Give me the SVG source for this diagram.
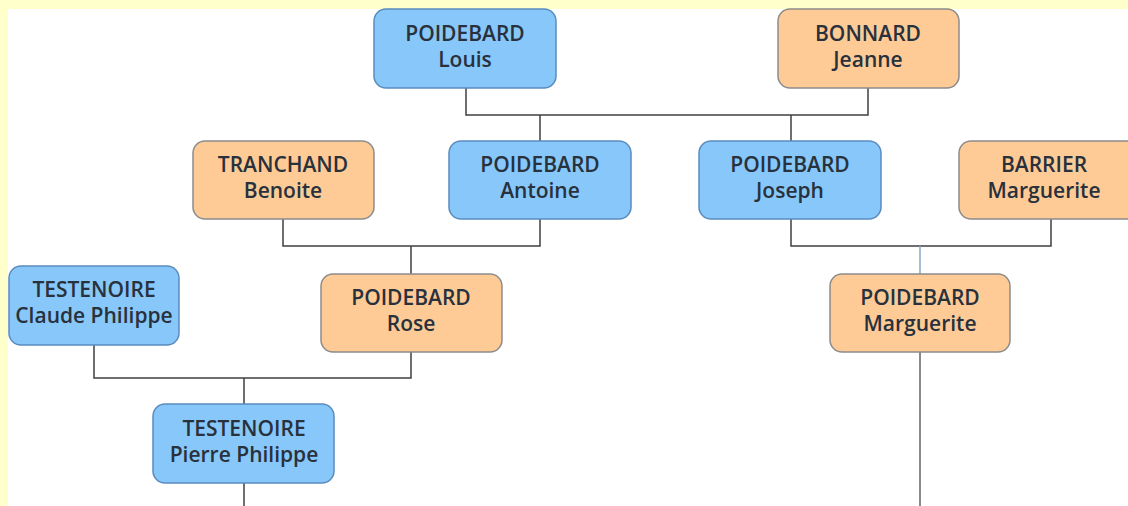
<svg xmlns="http://www.w3.org/2000/svg" width="1128" height="506" viewBox="0 0 1128 506">
<style>
.m rect{fill:#87C7F9;stroke:#5A8CBE;stroke-width:1.5}
.f rect{fill:#FECB97;stroke:#8C8C8C;stroke-width:1.5}
text{font-family:"Open Sans","Noto Sans",sans-serif;font-size:21px;font-weight:600;fill:#28313C;text-anchor:middle}
.c path{fill:none;stroke:#404040;stroke-width:1.5}
</style>
<rect width="1128" height="506" fill="#FFFFCC"/>
<rect x="8" y="9" width="1120" height="497" fill="#FFFFFF"/>
<g class="c">
<path d="M466 88V115H868V88M540 115V141M791 115V141"/>
<path d="M283 219V246H540V219M411 246V274"/>
<path d="M791 219V246H1051V219"/>
<path d="M920 246V274" style="stroke:#8AA6C4"/>
<path d="M94 345V378H411V352M244 378V404"/>
<path d="M244 483V506"/>
<path d="M920 352V506" style="stroke:#8A8A8A;stroke-width:2"/>
</g>
<g id="louis" class="m"><rect x="374" y="9" width="182" height="79" rx="12"/><text x="465" y="41">POIDEBARD</text><text x="465" y="67">Louis</text></g>
<g id="jeanne" class="f"><rect x="778" y="9" width="181" height="79" rx="12"/><text x="868" y="41">BONNARD</text><text x="868" y="67">Jeanne</text></g>
<g id="benoite" class="f"><rect x="193" y="141" width="181" height="78" rx="12"/><text x="283" y="172">TRANCHAND</text><text x="283" y="198">Benoite</text></g>
<g id="antoine" class="m"><rect x="449" y="141" width="182" height="78" rx="12"/><text x="540" y="172">POIDEBARD</text><text x="540" y="198">Antoine</text></g>
<g id="joseph" class="m"><rect x="699" y="141" width="182" height="78" rx="12"/><text x="790" y="172">POIDEBARD</text><text x="790" y="198">Joseph</text></g>
<g id="barrier" class="f"><rect x="959" y="141" width="180" height="78" rx="12"/><text x="1044" y="172">BARRIER</text><text x="1044" y="198">Marguerite</text></g>
<g id="claude" class="m"><rect x="9" y="266" width="170" height="79" rx="12"/><text x="94" y="297">TESTENOIRE</text><text x="94" y="323">Claude Philippe</text></g>
<g id="rose" class="f"><rect x="321" y="274" width="181" height="78" rx="12"/><text x="411" y="305">POIDEBARD</text><text x="411" y="331">Rose</text></g>
<g id="marguerite" class="f"><rect x="830" y="274" width="180" height="78" rx="12"/><text x="920" y="305">POIDEBARD</text><text x="920" y="331">Marguerite</text></g>
<g id="pierre" class="m"><rect x="153" y="404" width="181" height="79" rx="12"/><text x="244" y="436">TESTENOIRE</text><text x="244" y="462">Pierre Philippe</text></g>
</svg>
